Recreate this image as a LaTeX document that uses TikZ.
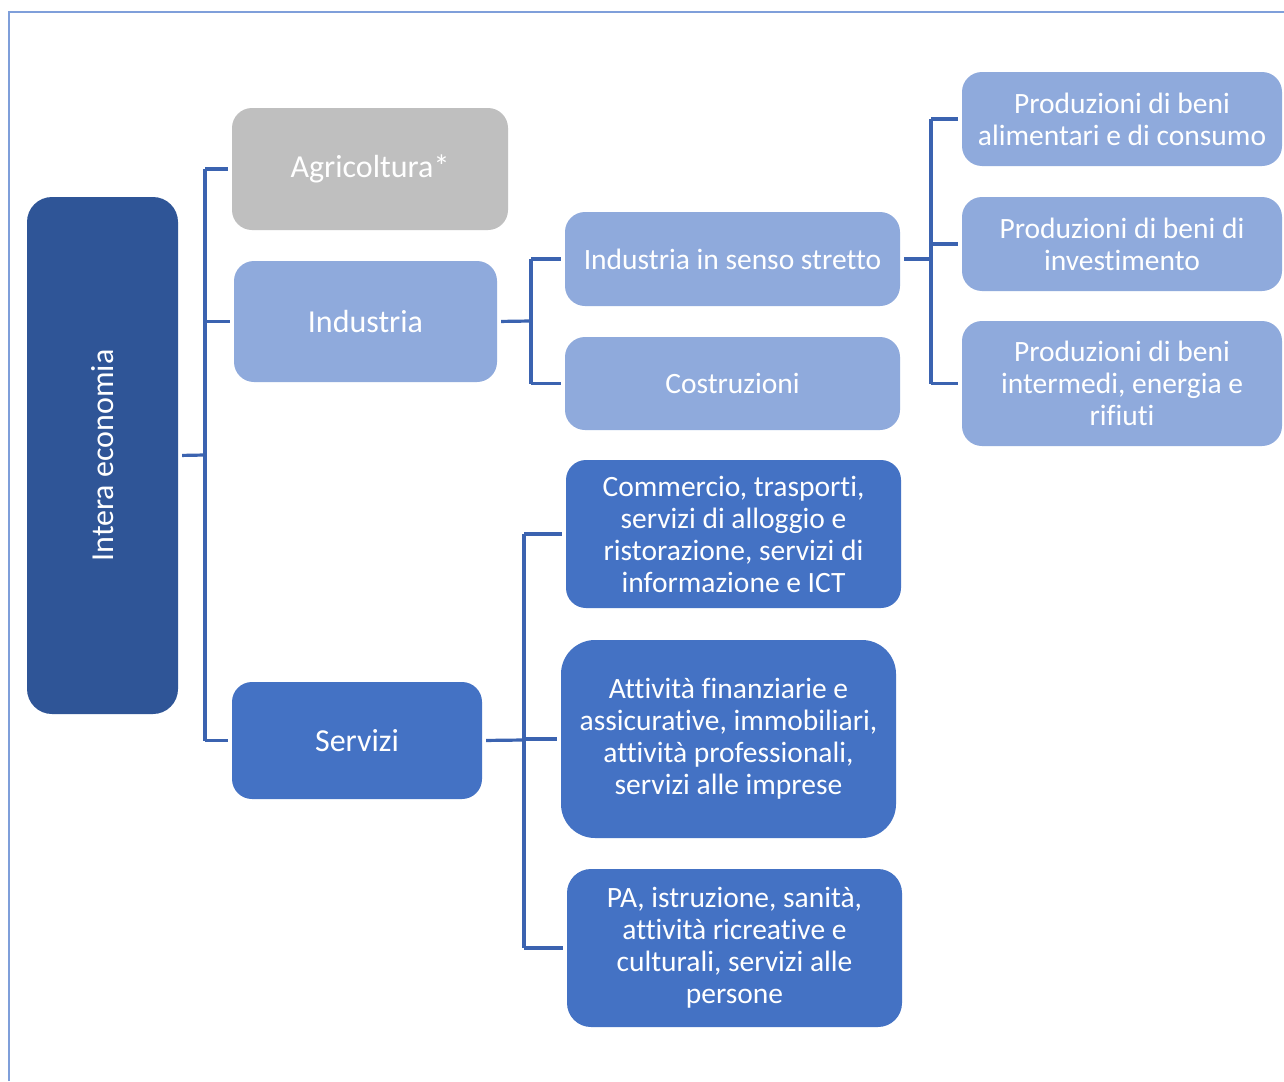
\documentclass[tikz,border=0pt]{standalone}
\usepackage{fontspec}
\setmainfont{Carlito}[Ligatures=NoCommon]
\begin{document}
\begin{tikzpicture}[x=1pt,y=-1pt,
  box/.style={rounded corners=20pt, inner sep=0pt, text=white, align=center,
    font=\fontsize{29.5}{32}\selectfont},
  bigtext/.style={font=\fontsize{32}{38}\selectfont},
  darkbox/.style={box, fill=ecoDark},
  greybox/.style={box, fill=agrGrey},
  lightbox/.style={box, fill=indLight},
  midbox/.style={box, fill=serMid},
  conn/.style={draw=connBlue, line width=3.2pt, shorten <=4pt, shorten >=4pt},
  trunk/.style={draw=connBlue, line width=3.2pt}
]
\definecolor{ecoDark}{HTML}{2F5597}
\definecolor{agrGrey}{HTML}{BFBFBF}
\definecolor{indLight}{HTML}{8FAADC}
\definecolor{serMid}{HTML}{4472C4}
\definecolor{connBlue}{HTML}{3B63B0}
\definecolor{frameBlue}{HTML}{7F9FDA}

\useasboundingbox (0,0) rectangle (1284,1081);
\fill[white] (0,0) rectangle (1284,1081);

% outer frame (open on the right and at the bottom)
\draw[frameBlue, line width=1.8pt] (9,1081) -- (9,12) -- (1284,12);

% root
\node[darkbox, rounded corners=25pt, minimum width=151pt, minimum height=517pt] (eco) at (102.5,455.5) {};
\node[text=white, rotate=90, bigtext] (ecolbl) at (eco.center) {Intera economia};

% first level
\node[greybox, bigtext, minimum width=276pt, minimum height=122pt] (agr) at (370,169) {Agricoltura*};
\node[lightbox, bigtext, minimum width=263pt, minimum height=121pt] (ind) at (365.5,321.5) {Industria};
\node[midbox, bigtext, minimum width=250pt, minimum height=117pt] (ser) at (357,740.5) {Servizi};

% industry branches
\node[lightbox, minimum width=335pt, minimum height=94pt] (iss) at (732.5,259) {Industria in senso stretto};
\node[lightbox, minimum width=335pt, minimum height=93pt] (cos) at (732.5,383.5) {Costruzioni};

\node[lightbox, minimum width=320pt, minimum height=94pt] (p1) at (1122,119) {Produzioni di beni\\alimentari e di consumo};
\node[lightbox, minimum width=320pt, minimum height=94pt] (p2) at (1122,244) {Produzioni di beni di\\investimento};
\node[lightbox, minimum width=320pt, minimum height=125pt] (p3) at (1122,383.5) {Produzioni di beni\\intermedi, energia e\\rifiuti};

% service branches
\node[midbox, minimum width=335pt, minimum height=148pt] (s1) at (733.5,534) {Commercio, trasporti,\\servizi di alloggio e\\ristorazione, servizi di\\informazione e ICT};
\node[midbox, rounded corners=34pt, minimum width=335pt, minimum height=198pt] (s2) at (728.5,739) {Attività finanziarie e\\assicurative, immobiliari,\\attività professionali,\\servizi alle imprese};
\node[midbox, rounded corners=24pt, minimum width=335pt, minimum height=158pt] (s3) at (734.5,948) {PA, istruzione, sanità,\\attività ricreative e\\culturali, servizi alle\\persone};

% junction points of the trunks
\coordinate (j1) at (205,455);
\coordinate (j2) at (531,321);
\coordinate (j3) at (931,259);
\coordinate (j4) at (524,740);

% root to first level
\draw[conn, shorten >=0pt] (eco.east) -- (j1);
\draw[trunk] (j1 |- agr.west) -- (j1 |- ser.west);
\draw[conn, shorten <=0pt] (j1 |- agr.west) -- (agr.west);
\draw[conn, shorten <=0pt] (j1 |- ind.west) -- (ind.west);
\draw[conn, shorten <=0pt] (j1 |- ser.west) -- (ser.west);

% industry
\draw[conn, shorten >=0pt] (ind.east) -- (j2);
\draw[trunk] (j2 |- iss.west) -- (j2 |- cos.west);
\draw[conn, shorten <=0pt] (j2 |- iss.west) -- (iss.west);
\draw[conn, shorten <=0pt] (j2 |- cos.west) -- (cos.west);

% industry in the strict sense
\draw[conn, shorten >=0pt] (iss.east) -- (j3);
\draw[trunk] (j3 |- p1.west) -- (j3 |- p3.west);
\draw[conn, shorten <=0pt] (j3 |- p1.west) -- (p1.west);
\draw[conn, shorten <=0pt] (j3 |- p2.west) -- (p2.west);
\draw[conn, shorten <=0pt] (j3 |- p3.west) -- (p3.west);

% services
\draw[conn, shorten >=0pt] (ser.east) -- (j4);
\draw[trunk] (j4 |- s1.west) -- (j4 |- s3.west);
\draw[conn, shorten <=0pt] (j4 |- s1.west) -- (s1.west);
\draw[conn, shorten <=0pt] (j4 |- s2.west) -- (s2.west);
\draw[conn, shorten <=0pt] (j4 |- s3.west) -- (s3.west);
\end{tikzpicture}
\end{document}
